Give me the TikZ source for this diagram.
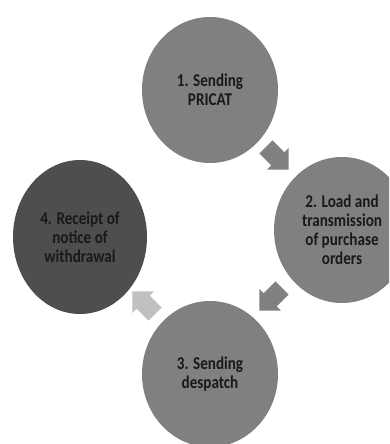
\documentclass[tikz,border=0pt]{standalone}
\usepackage{fontspec}
\setmainfont{Carlito}[FakeStretch=0.84]
\usepackage{tikz}
\usetikzlibrary{shapes.geometric,shapes.arrows,positioning}
\definecolor{stagegray}{RGB}{128,128,128}
\definecolor{stagedark}{RGB}{78,78,78}
\definecolor{arrowlight}{RGB}{192,192,192}

\begin{document}
\begin{tikzpicture}[x=1pt,y=-1pt,
    stage/.style={ellipse, fill=stagegray, minimum width=136pt, minimum height=146pt,
        inner sep=0pt, align=center, text=black!90,
        font=\bfseries\fontsize{18}{19}\selectfont},
    cyclearrow/.style={single arrow, fill=stagegray, minimum height=32pt,
        inner xsep=0pt, inner ysep=9pt, single arrow head extend=6pt}]
    % Frame
    \useasboundingbox (0,0) rectangle (389,444);
    \clip (0,0) rectangle (389,444);

    % Stages
    \node[stage] (pricat) at (210,90) {1. Sending\\PRICAT};
    \node[stage] (orders) at (342,230) {2. Load and\\transmission\\of purchase\\orders};
    \node[stage] (despatch) at (210,374) {3. Sending\\despatch};
    \node[stage, fill=stagedark, minimum height=154pt, minimum width=134pt] (withdrawal) at (80,237) {4. Receipt of\\notice of\\withdrawal};

    % Arrows between stages
    \node[cyclearrow, rotate=-45] (a12) at (274,155) {};
    \node[cyclearrow, rotate=-135] (a23) at (274,296) {};
    \node[cyclearrow, fill=arrowlight, rotate=135] (a34) at (147,306) {};
\end{tikzpicture}
\end{document}
